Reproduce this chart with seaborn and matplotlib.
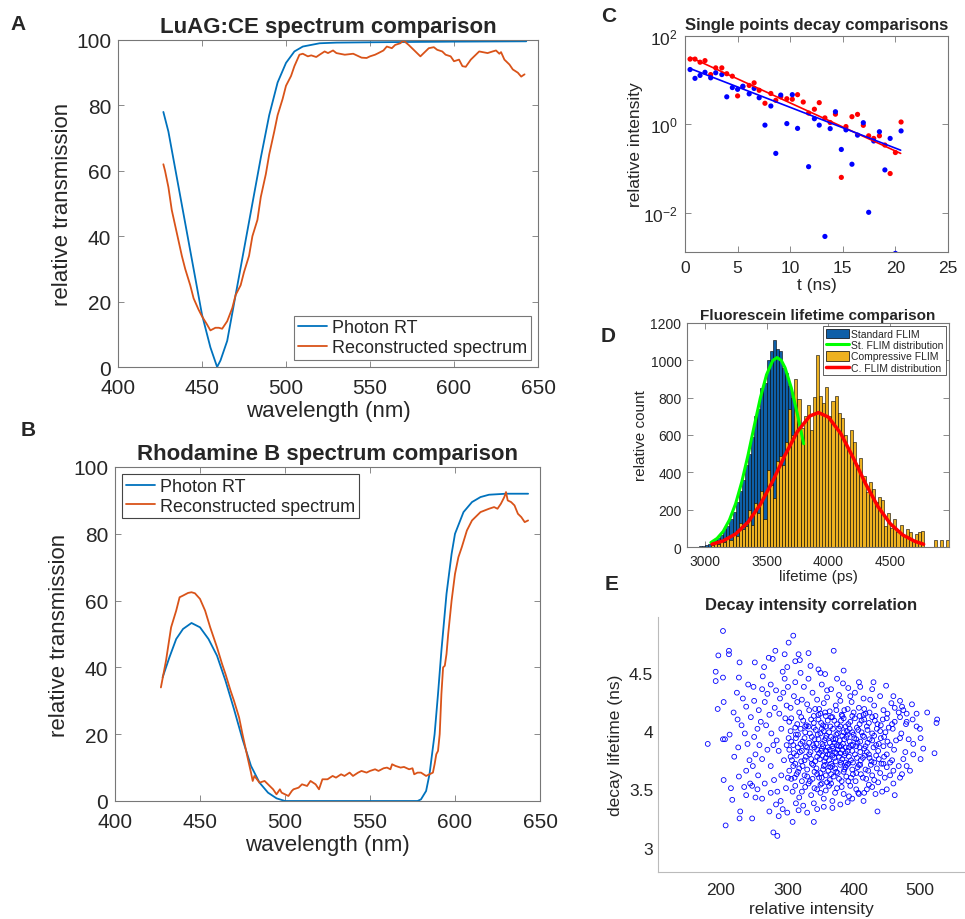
import numpy as np
import pandas as pd
import matplotlib
matplotlib.use("Agg")
import matplotlib.pyplot as plt
import seaborn as sns
from matplotlib.patches import Patch
from matplotlib.lines import Line2D
from matplotlib.ticker import LogFormatterMathtext, NullLocator

# ---------- data ----------
# A: LuAG:CE
a_wl_rt = [427, 430, 435, 440, 445, 450, 455, 458, 459, 461, 465, 470, 475, 480, 485,
           490, 495, 500, 505, 510, 520, 530, 550, 600, 643]
a_rt = [78, 72, 58, 44, 30, 16, 6, 1.5, 0, 2, 8, 22, 36, 50, 64,
        77, 87, 93, 96.5, 98, 99, 99.2, 99.3, 99.5, 99.6]
a_wl_rec = [427, 428, 430, 432, 435, 438, 440, 443, 445, 448, 450, 453, 455, 458, 460, 462,
            465, 468, 470, 473, 475, 478, 480, 483, 485, 488, 490, 493, 495, 498, 500, 503,
            505, 508, 510, 513, 515, 518, 520, 523, 525, 528, 530, 535, 540, 545, 548, 550,
            553, 555, 558, 560, 563, 565, 568, 570, 573, 575, 578, 580, 583, 585, 588, 590,
            593, 595, 598, 600, 603, 605, 607, 610, 613, 615, 618, 620, 623, 625, 627, 628,
            630, 633, 635, 638, 640, 642]
a_rec = [62, 60, 55, 48, 41, 34, 30, 25, 21, 17.5, 15.5, 13, 11.2, 12, 12, 11.7,
         14, 18, 22, 25, 29, 34, 40, 45, 52, 59, 65, 72, 77, 82, 86, 89,
         92, 95.5, 95.8, 95, 95.3, 94.8, 95.5, 96.5, 96, 96.8, 96, 95.5, 95.8, 94.6, 94.5, 95,
         95.5, 96, 96.8, 98, 97.5, 98.5, 99, 99.8, 98.5, 97.5, 96, 95, 96.5, 97.5, 97.8, 97,
         96.5, 95.5, 95, 93.5, 94, 92, 91.8, 94, 95.5, 96.5, 96.2, 96, 96.5, 96.8, 95.8, 96.3,
         94, 92.5, 91, 90, 88.8, 89.5]

# B: Rhodamine B
b_wl_rt = [428, 432, 436, 440, 445, 450, 455, 460, 465, 470, 475, 480, 485, 490, 495,
           500, 520, 560, 578, 580, 583, 585, 588, 590, 592, 595, 598, 600, 605, 610, 615,
           620, 630, 643]
b_rt = [37, 43, 48.5, 51.5, 53.3, 52, 48.5, 43.5, 36, 27.5, 18.5, 10.5, 5.5, 2.5, 0.8,
        0, 0, 0, 0, 0.5, 3, 8, 20, 32, 45, 62, 74, 80, 86.5, 89.5, 91,
        91.7, 92, 92]
b_wl_rec = [427, 430, 433, 436, 438, 440, 443, 445, 447, 450, 453, 456, 460, 463, 465, 468,
            470, 473, 475, 478, 480, 481, 482, 485, 488, 490, 493, 495, 497, 498, 500, 502,
            504, 505, 508, 510, 513, 515, 518, 520, 522, 525, 528, 530, 533, 535, 538, 540,
            543, 545, 548, 550, 553, 555, 558, 560, 562, 563, 565, 568, 570, 573, 575, 576,
            578, 580, 583, 585, 587, 588, 589, 590, 591, 592, 593, 594, 595, 596, 598, 600,
            602, 604, 607, 610, 615, 620, 623, 625, 627, 629, 630, 631, 633, 635, 637, 639,
            641, 643]
b_rec = [34, 42, 52, 57, 61, 61.5, 62.3, 62.5, 62.2, 60.5, 57, 52, 46, 41, 38, 33,
         30, 25, 20, 13, 8.5, 6, 7.5, 5.5, 6, 5, 3.5, 2, 3.5, 2.5, 2, 1.5,
         3, 3.5, 4, 5, 4.5, 6, 5, 3.5, 6.5, 6.5, 7.5, 7, 8, 7.5, 8.5, 7.5,
         8.5, 9, 8.5, 9, 9.5, 9, 9.8, 10, 9.5, 11, 10.5, 10, 10.2, 9.5, 9.8, 8,
         8.5, 8.5, 7.5, 8, 8.5, 11, 14, 15, 20, 32, 40, 40.5, 44, 50, 60, 68,
         73, 76, 81, 84, 86.5, 87.5, 88, 87.5, 89, 91, 92.5, 90, 89.5, 88.5, 86, 85,
         83.5, 84]

# C: single point decays
c_t_red = [0.48, 0.95, 1.43, 1.9, 2.44, 2.92, 3.5, 3.97, 4.5, 5.0, 5.5, 6.1, 6.57, 7.05,
           7.6, 8.16, 8.63, 9.1, 9.68, 10.2, 10.7, 11.24, 11.75, 12.3, 12.76, 13.3, 13.8,
           14.3, 14.86, 15.3, 15.87, 16.4, 16.95, 17.46, 17.94, 18.48, 19.0, 19.5, 20.0, 20.54]
c_red = [30, 30, 25.5, 27.7, 13.4, 19, 19, 14, 12.3, 4.4, 7.1, 7.6, 8.7, 5.9,
         3.0, 5.0, 3.5, 4.2, 3.8, 3.7, 4.7, 3.2, 1.8, 2.2, 3.1, 1.4, 1.1,
         1.7, 0.063, 0.89, 1.49, 1.68, 0.95, 0.55, 0.48, 0.55, 0.34, 0.077, 0.23, 1.13]
c_t_blue = [0.48, 0.95, 1.43, 1.9, 2.44, 2.92, 3.5, 3.97, 4.5, 5.0, 5.5, 6.1, 6.57, 7.05,
            7.6, 8.16, 8.63, 9.1, 9.68, 10.2, 10.7, 11.75, 12.3, 12.76, 13.3, 13.8,
            14.3, 14.86, 15.3, 15.87, 16.4, 16.95, 17.46, 17.94, 18.48, 19.0, 19.5, 20.0, 20.54]
c_blue = [17.4, 11, 12.8, 15.1, 11.3, 14.7, 13.4, 4.2, 6.8, 6.2, 7.3, 4.9, 6.5, 4.0,
          0.96, 2.6, 0.22, 4.6, 1.04, 4.7, 0.81, 0.11, 1.34, 0.96, 0.0029, 0.80,
          1.93, 0.27, 0.75, 0.125, 0.57, 1.09, 0.0102, 0.42, 0.68, 0.093, 0.48, 0.0012, 0.71]
c_fit_t = [0.5, 20.5]
c_fit_red = [33, 0.22]
c_fit_blue = [18.3, 0.26]

# D: lifetime histograms (bin width 25 ps)
d_std_start = 2950
d_std_counts = [3, 8, 12, 18, 25, 35, 50, 62, 95, 115, 150, 190, 240, 300, 360, 440, 500,
                590, 700, 740, 850, 880, 1000, 1050, 1110, 1060, 1050, 960, 930, 860, 800,
                700, 610, 560]
d_cmp_start = 3050
d_cmp_counts = [10, 20, 15, 35, 25, 50, 40, 75, 60, 130, 95, 110, 200, 120, 235, 180, 300,
                150, 410, 330, 260, 460, 490, 440, 560, 740, 600, 900, 795, 640, 700, 760,
                625, 805, 1030, 810, 770, 855, 700, 780, 810, 720, 690, 600, 520, 625, 560,
                440, 475, 380, 295, 350, 310, 240, 270, 250, 115, 180, 100, 150, 80, 120,
                60, 95, 80, 40, 70, 80, 85, 0, 0, 0, 35, 0, 35, 0, 35]
d_bin_width = 25
d_std_fit_x = [3050, 3100, 3150, 3200, 3250, 3300, 3350, 3400, 3450, 3500, 3550, 3585,
               3620, 3650, 3700, 3750, 3800]
d_std_fit = [24, 46, 84, 145, 232, 349, 491, 647, 799, 923, 999, 1015,
             999, 960, 853, 710, 553]
d_cmp_fit_x = [3060, 3150, 3250, 3350, 3450, 3550, 3650, 3750, 3850, 3920, 4000, 4100,
               4200, 4300, 4400, 4500, 4600, 4700, 4770]
d_cmp_fit = [15, 33, 70, 133, 228, 353, 493, 619, 702, 720, 696, 608,
             479, 340, 217, 125, 65, 30, 15]

# E: decay lifetime vs intensity
e_points = [
    (180, 3.89), (203, 4.86), (196, 4.65), (192, 4.51), (192, 4.43), (203, 4.46), (204, 4.25),
    (195, 4.19), (212, 4.69), (212, 4.66), (227, 4.46), (228, 4.59), (224, 4.33), (219, 4.16),
    (203, 3.93), (206, 3.93), (204, 3.58), (215, 3.51), (217, 3.41), (207, 3.19), (227, 3.61),
    (229, 3.31), (228, 3.25), (247, 3.25), (238, 3.45), (252, 3.43), (247, 3.53), (279, 3.13),
    (285, 3.10), (273, 3.31), (287, 3.27), (293, 3.33), (308, 3.22), (317, 3.32), (345, 3.33),
    (368, 3.34), (391, 3.39), (436, 3.31), (443, 3.48), (408, 3.46), (423, 3.54), (460, 3.55),
    (473, 3.63), (485, 3.66), (501, 3.76), (522, 3.81), (525, 4.07), (526, 4.10), (511, 4.16),
    (501, 3.94), (489, 4.10), (479, 4.06), (483, 3.93), (473, 4.21), (449, 4.39), (408, 4.42),
    (370, 4.69), (357, 4.49), (347, 4.53), (309, 4.82), (302, 4.76), (282, 4.69), (317, 4.66),
    (319, 4.61), (332, 4.67), (296, 4.66), (265, 4.55), (263, 4.47), (251, 4.59), (278, 4.62),
    (293, 4.51), (296, 4.45), (272, 4.63), (241, 4.40), (249, 4.38),
    (233, 4.28), (238, 4.21), (245, 4.12), (231, 4.05), (236, 3.98), (226, 3.86), (240, 3.89),
    (250, 3.95), (255, 4.02), (260, 4.08), (257, 4.18), (266, 4.25), (270, 4.32), (262, 4.36),
    (275, 4.40), (283, 4.35), (289, 4.28), (281, 4.20), (273, 4.14), (268, 4.05), (276, 3.98),
    (284, 3.92), (291, 4.02), (297, 4.11), (288, 4.15), (299, 4.22), (294, 4.33), (301, 4.38),
    (243, 3.75), (238, 3.66), (248, 3.70), (256, 3.62), (262, 3.76), (270, 3.84), (275, 3.70),
    (266, 3.55), (280, 3.58), (285, 3.48), (291, 3.62), (295, 3.75), (287, 3.83), (299, 3.88),
    (279, 3.88), (258, 3.88), (252, 3.80), (220, 3.78), (213, 3.97), (225, 4.10), (250, 4.26),
    (244, 3.55), (262, 3.42), (275, 3.47), (290, 3.40), (298, 3.51), (283, 3.37), (301, 3.60),
    (255, 3.50), (235, 3.52),
    (312, 4.42), (325, 4.38), (338, 4.33), (352, 4.40), (366, 4.36), (378, 4.31), (392, 4.37),
    (402, 4.33), (415, 4.28), (428, 4.36), (440, 4.30), (345, 4.27), (332, 4.45), (360, 4.29),
    (384, 4.41), (310, 4.30), (322, 4.27),
    (305, 4.20), (318, 4.16), (330, 4.23), (342, 4.19), (355, 4.24), (364, 4.17), (373, 4.22),
    (386, 4.18), (397, 4.25), (408, 4.20), (418, 4.15), (431, 4.22), (445, 4.18), (457, 4.24),
    (468, 4.16), (315, 4.25), (350, 4.15), (380, 4.26), (425, 4.27), (462, 4.20),
    (303, 4.08), (312, 4.03), (321, 4.12), (329, 4.05), (336, 4.10), (343, 4.01), (351, 4.07),
    (358, 4.13), (365, 4.04), (371, 4.09), (378, 4.02), (385, 4.11), (392, 4.06), (398, 4.13),
    (405, 4.03), (412, 4.09), (420, 4.04), (428, 4.12), (436, 4.06), (444, 4.10), (453, 4.03),
    (462, 4.08), (470, 4.12), (347, 4.14), (382, 4.14), (415, 4.14), (355, 4.00), (390, 4.00),
    (440, 4.00),
    (302, 3.94), (309, 3.88), (316, 3.97), (323, 3.91), (330, 3.86), (337, 3.95), (344, 3.89),
    (350, 3.98), (356, 3.92), (361, 3.86), (366, 3.95), (371, 3.90), (376, 3.98), (381, 3.87),
    (386, 3.93), (391, 3.97), (396, 3.88), (401, 3.94), (406, 3.90), (412, 3.99), (418, 3.87),
    (424, 3.93), (431, 3.96), (438, 3.89), (446, 3.95), (455, 3.88), (464, 3.92), (352, 3.85),
    (368, 3.87), (383, 3.96), (398, 3.99), (373, 3.93), (359, 3.96), (388, 3.86), (409, 3.86),
    (327, 3.99), (341, 3.93),
    (305, 3.78), (312, 3.72), (319, 3.82), (326, 3.75), (333, 3.80), (339, 3.71), (345, 3.78),
    (351, 3.83), (356, 3.74), (361, 3.80), (366, 3.72), (371, 3.77), (376, 3.84), (381, 3.73),
    (386, 3.79), (391, 3.83), (396, 3.75), (402, 3.80), (408, 3.71), (414, 3.77), (420, 3.82),
    (427, 3.74), (434, 3.79), (442, 3.72), (450, 3.80), (458, 3.75), (468, 3.70), (355, 3.70),
    (372, 3.82), (390, 3.71), (364, 3.84), (380, 3.81), (345, 3.84),
    (303, 3.66), (311, 3.60), (318, 3.68), (326, 3.62), (334, 3.57), (341, 3.65), (348, 3.60),
    (354, 3.67), (360, 3.56), (366, 3.63), (372, 3.68), (378, 3.59), (385, 3.65), (392, 3.57),
    (399, 3.63), (406, 3.69), (414, 3.60), (422, 3.66), (431, 3.58), (440, 3.64), (450, 3.69),
    (365, 3.69), (352, 3.55), (388, 3.69),
    (308, 3.48), (318, 3.43), (327, 3.52), (336, 3.45), (345, 3.50), (355, 3.42), (363, 3.53),
    (372, 3.47), (382, 3.52), (393, 3.44), (404, 3.50), (416, 3.47), (428, 3.52), (350, 3.47),
    (368, 3.40), (340, 3.38), (324, 3.36), (313, 3.38),
    # denser core
    (333, 4.18), (340, 4.13), (348, 4.19), (357, 4.16), (366, 4.12), (374, 4.18), (383, 4.13),
    (391, 4.19), (400, 4.16), (409, 4.13), (416, 4.19), (424, 4.16), (433, 4.13), (451, 4.15),
    (475, 4.18), (488, 4.23), (495, 4.15),
    (306, 4.11), (315, 4.06), (324, 4.09), (332, 4.04), (340, 4.07), (347, 4.10), (354, 4.05),
    (361, 4.09), (368, 4.12), (375, 4.06), (381, 4.09), (388, 4.04), (395, 4.08), (402, 4.11),
    (409, 4.06), (416, 4.10), (423, 4.07), (432, 4.09), (441, 4.05), (450, 4.11), (458, 4.06),
    (480, 4.08), (495, 4.04),
    (305, 4.00), (313, 3.97), (320, 4.02), (327, 4.04), (334, 3.98), (340, 4.03), (346, 3.97),
    (352, 4.02), (358, 4.04), (363, 3.99), (369, 4.02), (374, 3.97), (380, 4.04), (385, 3.99),
    (394, 4.02), (400, 3.97), (407, 4.01), (414, 3.96), (421, 4.01), (428, 3.98), (435, 4.02),
    (448, 3.99), (459, 4.02), (472, 3.98),
    (306, 3.91), (313, 3.94), (320, 3.89), (326, 3.94), (333, 3.90), (339, 3.88), (347, 3.93),
    (353, 3.89), (358, 3.94), (364, 3.90), (369, 3.93), (375, 3.88), (379, 3.92), (384, 3.89),
    (389, 3.95), (394, 3.91), (399, 3.88), (404, 3.93), (410, 3.91), (416, 3.95), (421, 3.90),
    (428, 3.92), (434, 3.88), (441, 3.94), (451, 3.91), (470, 3.94), (490, 3.89),
    (303, 3.84), (310, 3.81), (316, 3.86), (322, 3.83), (328, 3.87), (335, 3.82), (341, 3.86),
    (348, 3.81), (354, 3.87), (359, 3.83), (364, 3.80), (369, 3.85), (374, 3.81), (378, 3.87),
    (383, 3.84), (388, 3.81), (393, 3.86), (398, 3.83), (404, 3.87), (410, 3.82), (416, 3.85),
    (423, 3.80), (430, 3.86), (437, 3.83), (445, 3.87), (461, 3.84), (478, 3.82),
    (307, 3.75), (314, 3.79), (321, 3.74), (328, 3.78), (336, 3.76), (342, 3.74), (349, 3.76),
    (353, 3.79), (358, 3.77), (363, 3.75), (368, 3.79), (373, 3.74), (378, 3.78), (383, 3.76),
    (388, 3.73), (393, 3.78), (399, 3.73), (405, 3.77), (411, 3.75), (417, 3.79), (424, 3.77),
    (431, 3.73), (438, 3.76), (446, 3.78), (455, 3.73), (475, 3.76),
    (309, 3.70), (316, 3.65), (323, 3.70), (330, 3.67), (337, 3.72), (344, 3.68), (350, 3.64),
    (357, 3.71), (362, 3.66), (368, 3.70), (374, 3.65), (380, 3.71), (386, 3.67), (392, 3.72),
    (398, 3.67), (404, 3.64), (410, 3.71), (418, 3.67), (426, 3.71), (435, 3.68), (445, 3.72),
    (460, 3.66),
    (306, 3.59), (314, 3.63), (322, 3.57), (330, 3.61), (338, 3.59), (345, 3.63), (352, 3.60),
    (358, 3.62), (364, 3.58), (370, 3.61), (376, 3.64), (382, 3.57), (389, 3.61), (396, 3.60),
    (403, 3.57), (411, 3.63), (419, 3.59), (428, 3.62), (437, 3.56), (447, 3.60),
    (312, 3.53), (322, 3.48), (332, 3.55), (341, 3.51), (350, 3.54), (358, 3.49), (366, 3.55),
    (375, 3.51), (385, 3.46), (395, 3.53), (407, 3.47), (420, 3.50), (433, 3.46),
    (360, 4.35), (375, 4.45), (395, 4.30), (410, 4.38), (430, 4.42), (350, 4.50), (335, 4.56),
    (385, 4.52), (320, 4.50), (300, 4.55), (312, 4.60), (460, 4.30), (470, 4.26), (480, 4.15),
    (500, 4.02), (505, 3.85), (490, 3.80), (480, 3.70), (470, 3.60), (455, 3.62), (462, 3.45),
    (450, 3.50), (300, 3.30), (330, 3.30), (355, 3.35), (380, 3.37), (398, 3.42), (415, 3.40),
    (340, 3.22),
]
e_intensity = [p[0] for p in e_points]
e_lifetime = [p[1] for p in e_points]

# ---------- style ----------
sns.set_theme(style="ticks")
plt.rcParams['font.family'] = ['Liberation Sans', 'DejaVu Sans']
plt.rcParams['axes.edgecolor'] = '#777777'
plt.rcParams['axes.linewidth'] = 0.8
plt.rcParams['xtick.color'] = '#777777'
plt.rcParams['ytick.color'] = '#777777'
plt.rcParams['xtick.labelcolor'] = '#262626'
plt.rcParams['ytick.labelcolor'] = '#262626'
plt.rcParams['xtick.direction'] = 'in'
plt.rcParams['ytick.direction'] = 'in'

BLUE = '#0072BD'
ORANGE = '#D95319'
W, H = 965, 920


def px_axes(fig, left, right, top, bottom):
    return fig.add_axes([left / W, 1 - bottom / H, (right - left) / W, (bottom - top) / H])


def box_ticks(ax, size, xpad, ypad):
    ax.tick_params(top=True, right=True, length=4, width=0.6, labelsize=size)
    ax.tick_params(axis='x', pad=xpad)
    ax.tick_params(axis='y', pad=ypad)


fig = plt.figure(figsize=(9.65, 9.2), dpi=100)

# ---------- A ----------
ax = px_axes(fig, 118, 538, 41, 368)
sns.lineplot(x=a_wl_rt, y=a_rt, color=BLUE, linewidth=1.3, ax=ax, label='Photon RT')
sns.lineplot(x=a_wl_rec, y=a_rec, color=ORANGE, linewidth=1.3, ax=ax, label='Reconstructed spectrum')
ax.set_xlim(400, 650)
ax.set_ylim(0, 100)
ax.set_xticks(range(400, 651, 50))
ax.set_yticks(range(0, 101, 20))
box_ticks(ax, 15, 8, 5)
ax.set_xlabel('wavelength (nm)', fontsize=16, color='#262626', labelpad=2)
ax.set_ylabel('relative transmission', fontsize=16, color='#262626', labelpad=2)
ax.set_title('LuAG:CE spectrum comparison', fontsize=16, fontweight='bold', pad=6)
leg = ax.legend(loc='lower right', fontsize=13, fancybox=False, framealpha=1,
                edgecolor='#777777', handlelength=1.6, handletextpad=0.3,
                borderpad=0.2, labelspacing=0.15, borderaxespad=0.4)
leg.get_frame().set_linewidth(0.8)

# ---------- B ----------
ax = px_axes(fig, 115, 540, 468, 802)
sns.lineplot(x=b_wl_rt, y=b_rt, color=BLUE, linewidth=1.3, ax=ax, label='Photon RT')
sns.lineplot(x=b_wl_rec, y=b_rec, color=ORANGE, linewidth=1.3, ax=ax, label='Reconstructed spectrum')
ax.set_xlim(400, 650)
ax.set_ylim(0, 100)
ax.set_xticks(range(400, 651, 50))
ax.set_yticks(range(0, 101, 20))
box_ticks(ax, 15, 8, 5)
ax.set_xlabel('wavelength (nm)', fontsize=16, color='#262626', labelpad=2)
ax.set_ylabel('relative transmission', fontsize=16, color='#262626', labelpad=2)
ax.set_title('Rhodamine B spectrum comparison', fontsize=16, fontweight='bold', pad=6)
leg = ax.legend(loc='upper left', fontsize=13, fancybox=False, framealpha=1,
                edgecolor='#444444', handlelength=1.6, handletextpad=0.3,
                borderpad=0.2, labelspacing=0.15, borderaxespad=0.4)
leg.get_frame().set_linewidth(0.8)

# ---------- C ----------
ax = px_axes(fig, 685, 948, 37, 253)
ax.set_yscale('log')
sns.lineplot(x=c_fit_t, y=c_fit_red, color='red', linewidth=1.2, ax=ax)
sns.lineplot(x=c_fit_t, y=c_fit_blue, color='blue', linewidth=1.2, ax=ax)
sns.scatterplot(x=c_t_red, y=c_red, color='red', s=14, edgecolor='none', ax=ax)
sns.scatterplot(x=c_t_blue, y=c_blue, color='blue', s=14, edgecolor='none', ax=ax)
ax.set_xlim(0, 25)
ax.set_ylim(10 ** -2.89, 100)
ax.set_xticks(range(0, 26, 5))
ax.set_yticks([1e-2, 1, 1e2])
ax.yaxis.set_major_formatter(LogFormatterMathtext())
ax.yaxis.set_minor_locator(NullLocator())
box_ticks(ax, 12.5, 6, 5)
ax.set_xlabel('t (ns)', fontsize=12.5, color='#262626', labelpad=1)
ax.set_ylabel('relative intensity', fontsize=12.5, color='#262626', labelpad=0)
ax.set_title('Single points decay comparisons', fontsize=12, fontweight='bold', pad=5)

# ---------- D ----------
ax = px_axes(fig, 687, 949, 324, 548)
std_df = pd.DataFrame({'lifetime': d_std_start + d_bin_width * (np.arange(len(d_std_counts)) + 0.5),
                       'count': d_std_counts})
cmp_df = pd.DataFrame({'lifetime': d_cmp_start + d_bin_width * (np.arange(len(d_cmp_counts)) + 0.5),
                       'count': d_cmp_counts})
sns.histplot(data=std_df, x='lifetime', weights='count', binwidth=d_bin_width,
             binrange=(d_std_start, d_std_start + d_bin_width * len(d_std_counts)),
             color='#0E5FA8', edgecolor='black', linewidth=0.4, alpha=1, ax=ax)
sns.lineplot(x=d_std_fit_x, y=d_std_fit, color='#00FF00', linewidth=2.2, ax=ax)
sns.histplot(data=cmp_df, x='lifetime', weights='count', binwidth=d_bin_width,
             binrange=(d_cmp_start, d_cmp_start + d_bin_width * len(d_cmp_counts)),
             color='#EDB120', edgecolor='black', linewidth=0.4, alpha=1, ax=ax)
sns.lineplot(x=d_cmp_fit_x, y=d_cmp_fit, color='#FF0000', linewidth=2.5, ax=ax)
ax.set_xlim(2857, 4975)
ax.set_ylim(0, 1200)
ax.set_xticks([3000, 3500, 4000, 4500])
ax.set_yticks(range(0, 1201, 200))
box_ticks(ax, 10, 5, 4)
ax.set_xlabel('lifetime (ps)', fontsize=11, color='#262626', labelpad=1)
ax.set_ylabel('relative count', fontsize=11, color='#262626', labelpad=2)
ax.set_title('Fluorescein lifetime comparison', fontsize=11, fontweight='bold', pad=3)
handles = [Patch(facecolor='#0E5FA8', edgecolor='black', linewidth=0.5),
           Line2D([], [], color='#00FF00', linewidth=2.2),
           Patch(facecolor='#EDB120', edgecolor='black', linewidth=0.5),
           Line2D([], [], color='#FF0000', linewidth=2.5)]
labels = ['Standard FLIM', 'St. FLIM distribution', 'Compressive FLIM', 'C. FLIM distribution']
leg = ax.legend(handles, labels, loc='upper right', fontsize=7.5, fancybox=False,
                framealpha=1, edgecolor='#444444', handlelength=2.2, handleheight=1.0,
                handletextpad=0.2, borderpad=0.25, labelspacing=0.1, borderaxespad=0.3)
leg.get_frame().set_linewidth(0.6)

# ---------- E ----------
ax = px_axes(fig, 658, 965, 618, 873)
sns.scatterplot(x=e_intensity, y=e_lifetime, s=12, facecolor='none', edgecolor='#0000FF',
                linewidth=0.6, ax=ax)
ax.set_xlim(105, 568)
ax.set_ylim(2.79, 4.98)
ax.set_xticks([200, 300, 400, 500])
ax.set_yticks([3, 3.5, 4, 4.5])
ax.set_yticklabels(['3', '3.5', '4', '4.5'])
sns.despine(ax=ax)
ax.spines['left'].set_color('#bbbbbb')
ax.spines['bottom'].set_color('#bbbbbb')
ax.tick_params(length=0, labelsize=12.5)
ax.tick_params(axis='x', pad=7)
ax.set_xlabel('relative intensity', fontsize=12.5, color='#262626', labelpad=3)
ax.set_ylabel('decay lifetime (ns)', fontsize=12.5, color='#262626', labelpad=4)
ax.set_title('Decay intensity correlation', fontsize=12, fontweight='bold', pad=6)

# panel letters
for letter, x, y in [('A', 18, 25), ('B', 28, 430), ('C', 609, 17), ('D', 608, 337), ('E', 612, 585)]:
    fig.text(x / W, 1 - y / H, letter, fontsize=15, fontweight='bold', ha='center', va='center')

fig.savefig('out.png', dpi=100)
